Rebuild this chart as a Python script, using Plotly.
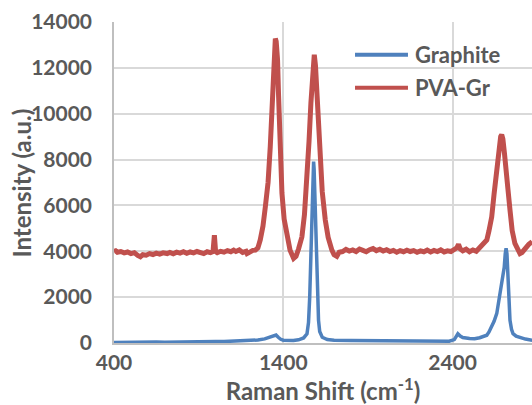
import plotly.graph_objects as go

# Raman spectra: wavenumber (cm-1) and intensity (a.u.)
graphite_x = [400, 450, 500, 550, 600, 650, 700, 750, 800, 850, 900, 950, 1000, 1050, 1100,
              1150, 1200, 1250, 1290, 1320, 1340, 1357, 1370, 1385, 1400, 1430, 1460, 1490,
              1520, 1540, 1549, 1556, 1563, 1570, 1576, 1579, 1582, 1588, 1595, 1601, 1608,
              1615, 1630, 1660, 1700, 1800, 1900, 2000, 2100, 2200, 2300, 2380, 2410, 2431,
              2445, 2460, 2500, 2530, 2560, 2580, 2602, 2615, 2631, 2645, 2661, 2670, 2676,
              2685, 2695, 2705, 2711, 2716, 2721, 2725, 2729, 2734, 2739, 2748, 2757, 2775,
              2798, 2830, 2870]
graphite_y = [20, 30, 25, 35, 30, 40, 35, 45, 40, 50, 50, 55, 60, 65, 75,
              85, 100, 130, 180, 250, 320, 350, 250, 160, 120, 100, 110, 140,
              220, 400, 900, 2000, 3900, 6000, 7600, 7910, 7600, 6000, 3900, 2000, 1000,
              500, 250, 150, 120, 110, 100, 90, 85, 80, 80, 80, 150, 400,
              300, 240, 200, 190, 230, 280, 340, 480, 700, 950, 1290, 1700, 2010,
              2300, 2700, 3300, 3900, 4130, 3900, 3200, 2450, 1600, 990, 600, 410, 300,
              240, 170, 120]

pva_x = [400, 410, 420, 440, 460, 480, 500, 520, 540, 556, 570, 590, 610, 630, 650, 670, 690,
         714, 730, 750, 770, 790, 810, 830, 850, 870, 890, 910, 930, 950, 970, 985, 990, 993,
         996, 1000, 1010, 1030, 1050, 1070, 1090, 1107, 1120, 1140, 1160, 1180, 1186, 1200,
         1220, 1235, 1250, 1264, 1280, 1294, 1310, 1323, 1335, 1343, 1350, 1353, 1358, 1366,
         1372, 1378, 1385, 1392, 1405, 1422, 1440, 1461, 1475, 1490, 1510, 1525, 1540, 1552,
         1563, 1575, 1583, 1590, 1599, 1608, 1612, 1618, 1630, 1648, 1665, 1687, 1700, 1716,
         1730, 1750, 1770, 1790, 1810, 1830, 1850, 1870, 1890, 1910, 1930, 1950, 1970, 1990,
         2010, 2030, 2050, 2070, 2090, 2110, 2130, 2150, 2170, 2190, 2210, 2230, 2250, 2270,
         2290, 2310, 2330, 2350, 2370, 2390, 2410, 2425, 2435, 2445, 2460, 2480, 2500, 2520,
         2540, 2555, 2572, 2590, 2602, 2615, 2631, 2645, 2661, 2675, 2684, 2690, 2697, 2706,
         2716, 2727, 2739, 2752, 2768, 2785, 2798, 2810, 2825, 2838, 2850, 2870]
pva_y = [3990, 4020, 3960, 3990, 3930, 3970, 3900, 3940, 3820, 3760, 3850, 3830, 3900, 3860,
         3920, 3880, 3930, 3900, 3950, 3890, 3960, 3920, 3980, 3910, 3970, 3930, 3990, 3950,
         3900, 3980, 3940, 3990, 4300, 4700, 4400, 3990, 3940, 4000, 3960, 4030, 3980, 4050,
         3990, 4060, 3950, 4000, 3900, 3980, 4040, 4050, 4150, 4500, 5100, 5940, 7000, 8560,
         10500, 12360, 13100, 13280, 13150, 12360, 10800, 9000, 7600, 6540, 5400, 4630, 4050,
         3690, 3780, 4100, 4630, 5600, 7110, 8800, 10460, 12000, 12570, 12100, 10750, 9730,
         9100, 7980, 6600, 5360, 4600, 4050, 3850, 3780, 3960, 3990, 4080, 4010, 4060, 3990,
         4100, 4040, 3980, 4070, 4120, 4030, 4090, 4010, 4070, 3990, 4040, 3960, 4030, 3980,
         4050, 3990, 4030, 3960, 4020, 3980, 4050, 3970, 4040, 3990, 4060, 3970, 4020, 3990,
         4050, 4150, 4300, 4100, 4020, 4090, 3980, 4060, 4000, 4120, 4200, 4350, 4490, 4900,
         5500, 6500, 7690, 8500, 9000, 9080, 8900, 8300, 7690, 6700, 5800, 4900, 4340, 4050,
         3900, 3950, 4100, 4200, 4300, 4420]

x_ticks = [400, 1400, 2400]
y_ticks = [0, 2000, 4000, 6000, 8000, 10000, 12000, 14000]

BLUE = "#4F81BD"
RED = "#C0504D"
TEXT = "#595959"
GRID = "#D9D9D9"
FONT = "Lato"

fig = go.Figure()
fig.add_trace(go.Scatter(x=graphite_x, y=graphite_y, mode="lines", name="Graphite",
                         line=dict(color=BLUE, width=3.5), showlegend=False))
fig.add_trace(go.Scatter(x=pva_x, y=pva_y, mode="lines", name="PVA-Gr",
                         line=dict(color=RED, width=5), showlegend=False))

# Legend drawn as line samples with labels
legend_items = [("Graphite", BLUE, 0.898), ("PVA-Gr", RED, 0.795)]
for label, color, ypos in legend_items:
    fig.add_shape(type="line", xref="paper", yref="paper", x0=0.5766, x1=0.7033,
                  y0=ypos, y1=ypos, line=dict(color=color, width=4))
    fig.add_annotation(xref="paper", yref="paper", x=0.7153, y=ypos, text=label,
                       showarrow=False, xanchor="left", yanchor="middle",
                       font=dict(family=FONT, size=22, color=TEXT, weight="bold"))

# Y-axis title, placed so it sits close to the tick labels
fig.add_annotation(xref="paper", yref="paper", x=-0.2201, y=0.5, text="Intensity (a.u.)",
                   showarrow=False, textangle=-90, xanchor="center", yanchor="middle",
                   font=dict(family=FONT, size=24, color=TEXT, weight="bold"))

fig.update_layout(
    width=532, height=405,
    margin=dict(l=114, r=0, t=22, b=62),
    paper_bgcolor="white", plot_bgcolor="white",
    font=dict(family=FONT, color=TEXT),
)
fig.update_xaxes(
    range=[400, 2869], tickvals=x_ticks, ticktext=[str(v) for v in x_ticks], ticks="",
    showgrid=True, gridcolor=GRID, gridwidth=1.5,
    showline=True, linecolor="#BFBFBF", linewidth=1.5,
    zeroline=False,
    tickfont=dict(family=FONT, size=21, color=TEXT, weight="bold"),
    title=dict(text="Raman Shift (cm<sup>-1</sup>)", standoff=6,
               font=dict(family=FONT, size=24, color=TEXT, weight="bold")),
)
fig.update_yaxes(
    range=[0, 14000], tickvals=y_ticks, ticktext=[str(v) for v in y_ticks], ticks="",
    showgrid=True, gridcolor=GRID, gridwidth=1.5,
    showline=True, linecolor="#BFBFBF", linewidth=1.5,
    zeroline=False, ticklabelstandoff=16,
    tickfont=dict(family=FONT, size=21, color=TEXT, weight="bold"),
)

fig.write_html("out.html")
